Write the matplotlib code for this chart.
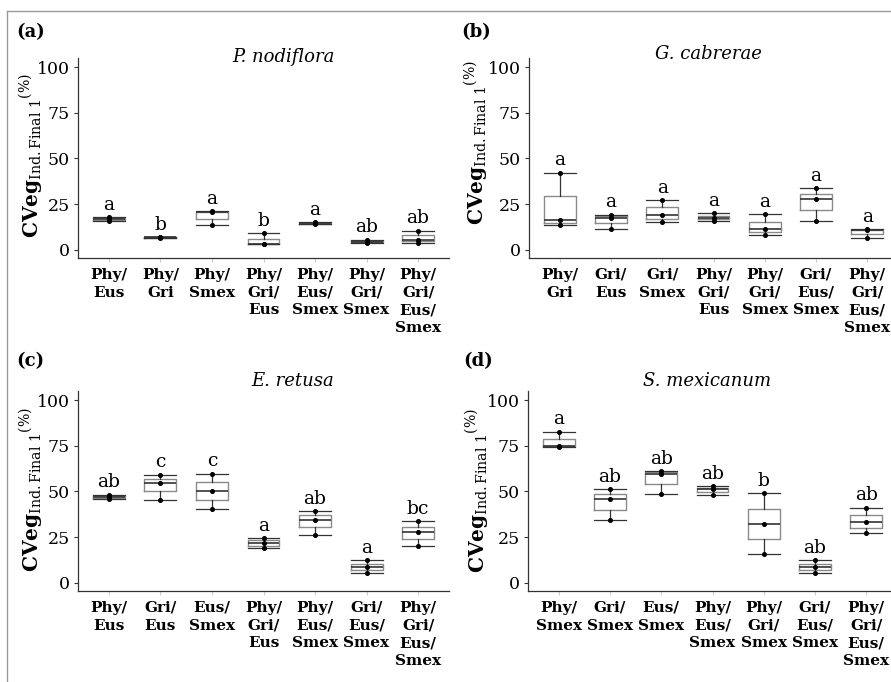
import matplotlib
matplotlib.use("Agg")
import matplotlib.pyplot as plt
from matplotlib.lines import Line2D

plt.rcParams['font.family'] = 'DejaVu Serif'
plt.rcParams['mathtext.fontset'] = 'dejavuserif'

# ---- data (3 replicates per treatment) ----
cats_a = ["Phy/\nEus", "Phy/\nGri", "Phy/\nSmex", "Phy/\nGri/\nEus",
          "Phy/\nEus/\nSmex", "Phy/\nGri/\nSmex", "Phy/\nGri/\nEus/\nSmex"]
vals_a = [[15.8, 17.0, 17.8], [6.6, 6.8, 7.0], [13.5, 20.5, 21.2], [3.0, 3.2, 9.0],
          [14.0, 14.5, 15.0], [3.8, 4.5, 5.5], [3.6, 5.5, 10.5]]
letters_a = ["a", "b", "a", "b", "a", "ab", "ab"]

cats_b = ["Phy/\nGri", "Gri/\nEus", "Gri/\nSmex", "Phy/\nGri/\nEus",
          "Phy/\nGri/\nSmex", "Gri/\nEus/\nSmex", "Phy/\nGri/\nEus/\nSmex"]
vals_b = [[13.3, 16.5, 42.3], [11.3, 17.5, 19.2], [15.0, 19.0, 27.3], [16.0, 17.5, 20.0],
          [8.2, 11.3, 19.5], [15.5, 27.8, 33.6], [6.5, 10.8, 11.4]]
letters_b = ["a", "a", "a", "a", "a", "a", "a"]

cats_c = ["Phy/\nEus", "Gri/\nEus", "Eus/\nSmex", "Phy/\nGri/\nEus",
          "Phy/\nEus/\nSmex", "Gri/\nEus/\nSmex", "Phy/\nGri/\nEus/\nSmex"]
vals_c = [[45.6, 47.0, 48.2], [45.5, 54.7, 59.2], [40.2, 50.2, 59.8], [18.8, 21.9, 24.5],
          [26.3, 34.5, 39.2], [5.5, 8.4, 12.2], [20.3, 27.9, 33.7]]
letters_c = ["ab", "c", "c", "a", "ab", "a", "bc"]

cats_d = ["Phy/\nSmex", "Gri/\nSmex", "Eus/\nSmex", "Phy/\nEus/\nSmex",
          "Phy/\nGri/\nSmex", "Gri/\nEus/\nSmex", "Phy/\nGri/\nEus/\nSmex"]
vals_d = [[74.5, 75.0, 82.8], [34.3, 45.6, 51.4], [48.4, 59.8, 61.2], [48.0, 51.3, 53.0],
          [15.5, 32.3, 49.0], [5.5, 8.5, 12.2], [27.0, 33.4, 41.2]]
letters_d = ["a", "ab", "ab", "ab", "b", "ab", "ab"]

species = ["P. nodiflora", "G. cabrerae", "E. retusa", "S. mexicanum"]
panel_tags = ["(a)", "(b)", "(c)", "(d)"]
yticks = [0, 25, 50, 75, 100]

W, H = 891, 682
fig = plt.figure(figsize=(W / 100, H / 100), dpi=100)

# axes rectangles in pixels: left, top, width, height
rects = [(78, 58, 371, 200), (529, 58, 369, 200),
         (78, 391, 371, 200), (528, 391, 369, 200)]
title_pos = [(283, 57), (708, 54), (293, 381), (707, 381)]
tag_pos = [(16, 32), (461, 32), (16, 361), (463, 361)]
ylab_pos = [(31, 155), (476, 142), (31, 489), (477, 490)]

panels = [(cats_a, vals_a, letters_a), (cats_b, vals_b, letters_b),
          (cats_c, vals_c, letters_c), (cats_d, vals_d, letters_d)]

dark = "#333333"
for i, (cats, vals, letters) in enumerate(panels):
    l, t, w, h = rects[i]
    ax = fig.add_axes([l / W, 1 - (t + h) / H, w / W, h / H])
    pos = list(range(1, len(cats) + 1))
    ax.boxplot(vals, positions=pos, widths=0.62, whis=(0, 100), capwidths=0.62,
               showfliers=False, patch_artist=False,
               boxprops=dict(color="#8a8a8a", linewidth=1.0),
               medianprops=dict(color=dark, linewidth=1.2),
               whiskerprops=dict(color=dark, linewidth=0.9),
               capprops=dict(color=dark, linewidth=0.9))
    for p, v in zip(pos, vals):
        ax.plot([p] * len(v), v, 'o', color="black", markersize=2.6, zorder=5)
    for p, v, lt in zip(pos, vals, letters):
        ax.text(p, max(v) + 4, lt, ha="center", va="baseline", fontsize=13.5)
    ax.set_xlim(0.4, 7.6)
    ax.set_ylim(-4.5, 105)
    ax.set_yticks(yticks)
    ax.set_xticks(pos)
    ax.set_xticklabels(cats, fontweight="bold", fontsize=11, linespacing=1.35)
    ax.tick_params(axis="y", labelsize=12.5, length=3, color=dark, pad=3, width=0.8)
    ax.tick_params(axis="x", length=3, color="#cccccc", pad=4, width=0.8)
    for s in ["top", "right"]:
        ax.spines[s].set_visible(False)
    for s in ["left", "bottom"]:
        ax.spines[s].set_color(dark)
        ax.spines[s].set_linewidth(0.9)

    tx, ty = title_pos[i]
    fig.text(tx / W, 1 - ty / H, species[i], ha="center", va="center",
             fontsize=13, style="italic")
    gx, gy = tag_pos[i]
    fig.text(gx / W, 1 - gy / H, panel_tags[i], ha="left", va="center",
             fontsize=13, fontweight="bold")
    yx, yy = ylab_pos[i]
    fig.text(yx / W, 1 - yy / H,
             r"${\mathbf{CVeg}_{\mathrm{Ind.Final\ 1}}}^{(\%)}$",
             rotation=90, ha="center", va="center", fontsize=14.5)

# thin frame lines along the top and left edge
fig.add_artist(Line2D([7 / W, 1], [1 - 11 / H, 1 - 11 / H], color="#999999", lw=1))
fig.add_artist(Line2D([7 / W, 7 / W], [0, 1 - 11 / H], color="#999999", lw=1))

fig.savefig("out.png", dpi=100)
